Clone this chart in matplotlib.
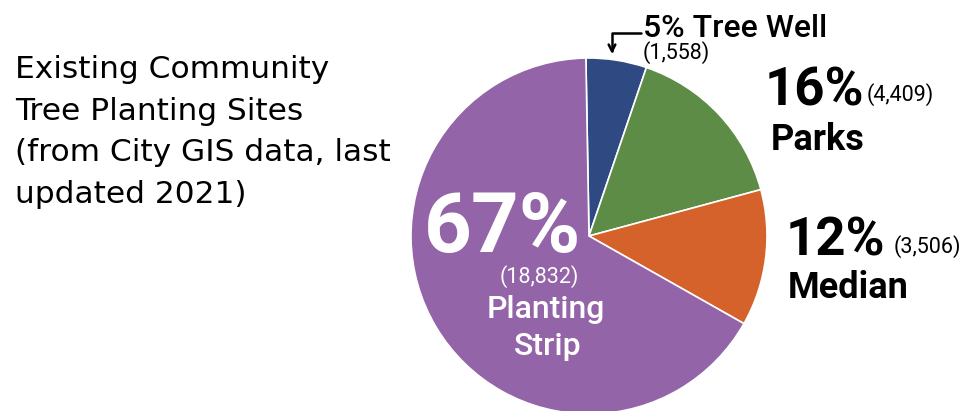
import matplotlib
matplotlib.use("Agg")
import matplotlib.pyplot as plt

W, H = 969, 411

# data (tree planting sites, City GIS 2021)
categories = ["Tree Well", "Parks", "Median", "Planting Strip"]
counts = [1558, 4409, 3506, 18832]
pct_labels = ["5%", "16%", "12%", "67%"]
count_labels = ["(1,558)", "(4,409)", "(3,506)", "(18,832)"]
colors = ["#2f4a82", "#5c8c45", "#d5622a", "#9364a8"]

title_lines = ["Existing Community", "Tree Planting Sites",
               "(from City GIS data, last", "updated 2021)"]

fig = plt.figure(figsize=(W / 100, H / 100), dpi=100)
fig.patch.set_facecolor("white")


def fx(x):
    return x / W


def fy(y):
    return 1 - y / H


# pie: centre (589, 236), radius 178 px
cx, cy, r = 589, 236, 178
ax = fig.add_axes([fx(cx - r), fy(cy + r), 2 * r / W, 2 * r / H])
ax.pie(counts, colors=colors, startangle=91, counterclock=False,
       wedgeprops=dict(edgecolor="white", linewidth=1.2))
ax.set_xlim(-1, 1)
ax.set_ylim(-1, 1)
ax.axis("off")

# title on the left
title_font = "DejaVu Sans"
for i, line in enumerate(title_lines):
    fig.text(fx(15), fy(78 + i * 41.5), line, fontsize=22.5, family=title_font,
             ha="left", va="baseline", color="black")

lab = "Roboto"
small = 15.5

# tree well
fig.text(fx(643), fy(37), pct_labels[0] + " " + categories[0], fontsize=23,
         family=lab, weight="medium", ha="left", va="baseline")
fig.text(fx(643), fy(59), count_labels[0], fontsize=small, family=lab,
         ha="left", va="baseline")
ax.annotate("", xy=(612, H - 54), xytext=(641, H - 33),
            xycoords="figure pixels", textcoords="figure pixels",
            arrowprops=dict(arrowstyle="->", color="black", lw=1.8,
                            connectionstyle="angle,angleA=0,angleB=90,rad=0",
                            shrinkA=0, shrinkB=0, mutation_scale=12))

# parks
fig.text(fx(765), fy(105), pct_labels[1], fontsize=38, family=lab,
         weight="bold", ha="left", va="baseline")
fig.text(fx(867), fy(101), count_labels[1], fontsize=small, family=lab,
         ha="left", va="baseline")
fig.text(fx(771), fy(150), categories[1], fontsize=26, family=lab,
         weight="bold", ha="left", va="baseline")

# median
fig.text(fx(786), fy(255), pct_labels[2], fontsize=38, family=lab,
         weight="bold", ha="left", va="baseline")
fig.text(fx(894), fy(253), count_labels[2], fontsize=small, family=lab,
         ha="left", va="baseline")
fig.text(fx(788), fy(298), categories[2], fontsize=26, family=lab,
         weight="bold", ha="left", va="baseline")

# planting strip (inside the wedge)
fig.text(fx(503), fy(252), pct_labels[3], fontsize=60, family=lab,
         weight="bold", ha="center", va="baseline", color="white")
fig.text(fx(539), fy(283), count_labels[3], fontsize=small, family=lab,
         ha="center", va="baseline", color="white")
fig.text(fx(546), fy(318), "Planting", fontsize=23, family=lab,
         weight="medium", ha="center", va="baseline", color="white")
fig.text(fx(548), fy(355), "Strip", fontsize=23, family=lab,
         weight="medium", ha="center", va="baseline", color="white")

fig.savefig("out.png", dpi=100, facecolor="white")
